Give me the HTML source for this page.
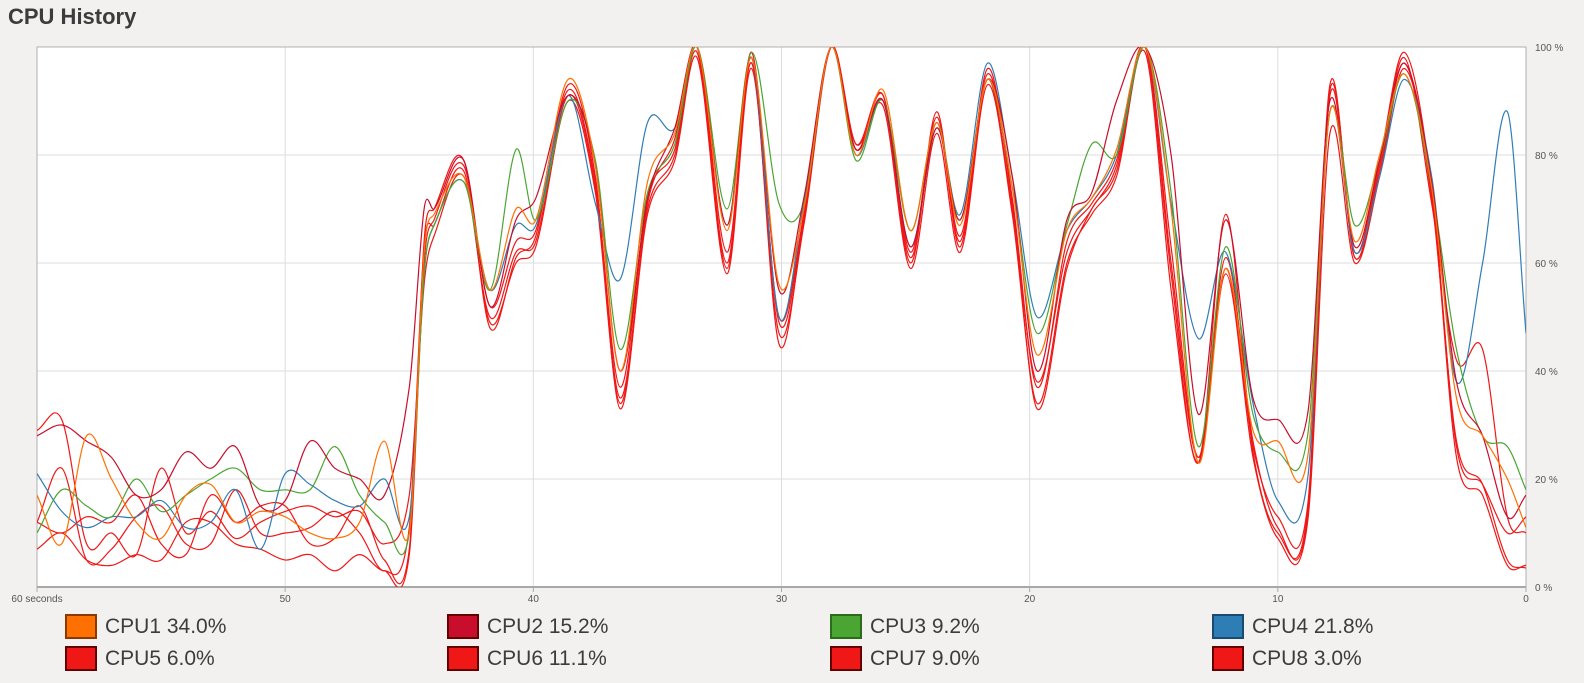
<!DOCTYPE html>
<html><head><meta charset="utf-8"><style>
body{margin:0;background:#f2f1f0;width:1584px;height:683px;overflow:hidden;font-family:"Liberation Sans",sans-serif;color:#3c3c3c}
#title{position:absolute;left:8px;top:4px;font-size:22px;font-weight:bold}
.lg{position:absolute;font-size:21px;display:flex;align-items:center}
.sw{width:28px;height:21px;border:2px solid #5a0000;margin-right:8px}
</style></head><body>
<div id="title">CPU History</div>
<svg id="c" width="1584" height="683" style="position:absolute;left:0;top:0"></svg>
<div id="legend"></div>
<script>
const times=[60,59,58,57,56,55,54,53,52,51,50,49,48,47,46,45,44.4,44.0,42.8,41.75,40.7,39.9,38.6,37.5,36.5,35.4,34.3,33.4,32.2,31.2,30.1,29.1,28.0,27.0,25.9,24.8,23.75,22.8,21.7,20.7,19.7,18.5,17.5,16.5,15.35,14.3,13.2,12.1,11.0,10.0,8.8,7.9,6.9,5.9,4.9,3.8,2.8,1.75,0.75,0];
const cpu1=[17,8,28,20,12,9,17,19,12,14,13,10,9,12,27,10,62,69,76,55,70,68,94,78,40,75,84,100,66,98,56,70,100,80,92,66,86,67,94,74,43,66,72,81,100,70,23,59,29,27,24,88,64,80,95,74,35,28,20,11];
const cpu2=[28,30,27,24,17,18,25,22,26,15,16,27,22,20,17,37,70,70,79,52,68,72,91,78,40,72,85,100,67,98,55,72,100,81,90,63,85,68,94,76,40,68,73,90,100,80,32,68,35,31,32,90,63,79,97,75,38,28,13,17];
const cpu3=[10,18,15,13,20,14,17,20,22,18,18,18,26,17,12,10,58,67,75,55,81,68,90,79,44,73,82,100,70,99,71,71,100,79,90,66,86,68,94,74,47,67,82,80,100,73,26,63,32,25,28,88,67,79,95,74,44,28,26,18];
const cpu4=[21,14,11,13,13,16,11,12,18,7,21,19,16,15,20,13,58,67,75,55,67,67,91,71,57,86,85,100,67,98,50,71,100,80,90,63,85,69,97,76,50,66,72,80,100,71,46,62,34,16,20,88,62,76,94,76,38,60,88,47];
const cpu5=[29,31,8,10,6,22,10,14,9,12,14,15,13,14,8,17,56,65,76,50,62,64,91,74,35,70,80,99,60,97,45,68,100,81,90,61,86,64,94,70,38,62,70,78,100,63,24,59,26,13,15,93,61,78,98,71,42,44,13,10];
const cpu6=[12,22,5,7,13,15,8,8,18,10,10,11,14,10,3,11,63,67,77,49,60,63,90,73,34,69,79,98,58,96,47,67,100,82,89,59,84,62,93,69,34,60,69,76,99,55,23,58,24,9,12,84,60,76,96,73,24,17,4,4];
const cpu7=[7,10,5,4,6,5,12,12,8,7,5,6,3,6,3,6,60,68,78,52,64,66,92,75,37,72,81,100,62,97,50,69,100,81,91,62,87,65,95,72,37,64,71,79,100,60,24,61,27,11,13,91,61,77,97,72,27,19,5,3.5];
const cpu8=[12,10,13,12,17,8,6,17,12,15,15,8,9,15,5,7,64,70,79,48,61,65,93,76,33,71,83,100,59,99,49,68,100,82,91,60,88,63,96,71,33,59,70,77,100,58,23,69,25,10,14,92,62,79,99,74,26,19,10,13];
const xTicks=[60,50,40,30,20,10,0];
const xTickLabels=["60 seconds","50","40","30","20","10","0"];
const yTicks=[0,20,40,60,80,100];
const names=["CPU1","CPU2","CPU3","CPU4","CPU5","CPU6","CPU7","CPU8"];
const pct=["34.0%","15.2%","9.2%","21.8%","6.0%","11.1%","9.0%","3.0%"];
const colors=["#ff7000","#c90d2c","#4aa532","#2f7db5","#f01717","#f01717","#f01717","#f01717"];
const series=[cpu1,cpu2,cpu3,cpu4,cpu5,cpu6,cpu7,cpu8];
const L=37,R=1526,T=47,B=587;
const X=t=>L+(60-t)/60*(R-L);
const Y=v=>B-v/100*(B-T);
const svg=document.getElementById('c');
const NS='http://www.w3.org/2000/svg';
function mk(tag,attrs){const e=document.createElementNS(NS,tag);for(const k in attrs)e.setAttribute(k,attrs[k]);svg.appendChild(e);return e;}
const bg=mk('rect',{x:L,y:T,width:R-L,height:B-T,fill:'#fff'});


const defs=mk('defs',{});
const cp=document.createElementNS(NS,'clipPath');cp.setAttribute('id','clip');
const cr=document.createElementNS(NS,'rect');cr.setAttribute('x',L);cr.setAttribute('y',T);cr.setAttribute('width',R-L);cr.setAttribute('height',B-T);
cp.appendChild(cr);defs.appendChild(cp);
xTicks.forEach((t,i)=>{
 const g=mk('line',{x1:X(t),x2:X(t),y1:T,y2:B,stroke:'#dddddd','stroke-width':1});
 
 
 const tk=mk('line',{x1:X(t),x2:X(t),y1:B,y2:B+5,stroke:'#aaa'});
 
 
 const tx=mk('text',{x:X(t),y:B+15,'font-size':10,fill:'#555','text-anchor':'middle','font-family':'Liberation Sans Narrow, Liberation Sans, sans-serif'});
 tx.textContent=xTickLabels[i];
 
 
});
yTicks.forEach(v=>{
 const g=mk('line',{x1:L,x2:R,y1:Y(v),y2:Y(v),stroke:'#dddddd','stroke-width':1});
 
 
 const tx=mk('text',{x:R+9,y:Y(v)+4,'font-size':10,fill:'#555','font-family':'Liberation Sans, sans-serif'});
 tx.textContent=v+' %';
 
 
});
const fr=mk('rect',{x:L,y:T,width:R-L,height:B-T,fill:'none',stroke:'#b0b0b0','stroke-width':1});


const bx=mk('line',{x1:L,x2:R,y1:B,y2:B,stroke:'#a8a8a8','stroke-width':2});


function pathFor(vals){
 const p=times.map((t,i)=>[X(t),Y(vals[i])]);
 let d='M'+p[0][0].toFixed(1)+','+p[0][1].toFixed(1);
 for(let i=0;i<p.length-1;i++){
  const p0=p[i-1]||p[i],p1=p[i],p2=p[i+1],p3=p[i+2]||p2;
  const dx=p2[0]-p1[0];
  const m1=(p2[1]-p0[1])/(p2[0]-p0[0]||1),m2=(p3[1]-p1[1])/(p3[0]-p1[0]||1);
  const c1=[p1[0]+dx/3,p1[1]+m1*dx/3],c2=[p2[0]-dx/3,p2[1]-m2*dx/3];
  d+=' C'+c1.map(v=>v.toFixed(1)).join(',')+' '+c2.map(v=>v.toFixed(1)).join(',')+' '+p2[0].toFixed(1)+','+p2[1].toFixed(1);
 }
 return d;
}
const order=[7,6,5,4,3,2,1,0];
order.forEach(i=>{
 const pth=mk('path',{d:pathFor(series[i]),fill:'none',stroke:colors[i],'stroke-width':1.2,'clip-path':'url(#clip)'});
 
 
});
const lg=document.getElementById('legend');
const cols=[65,447,830,1212],rows=[615,647];
names.forEach((n,i)=>{
 const d=document.createElement('div');
 d.className='lg';
 d.style.left=cols[i%4]+'px';d.style.top=(rows[Math.floor(i/4)]-1)+'px';
 
 
 const s=document.createElement('div');s.className='sw';s.style.background=colors[i];
 s.style.borderColor=i===2?'#2a6a1a':i===3?'#1a4a70':i===0?'#8a3a00':'#600000';
 
 
 const t=document.createElement('span');t.textContent=n+' '+pct[i];
 
 
 d.appendChild(s);d.appendChild(t);lg.appendChild(d);
});
</script>
</body></html>
